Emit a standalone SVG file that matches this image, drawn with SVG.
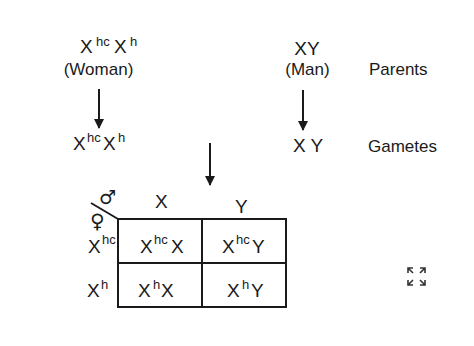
<svg xmlns="http://www.w3.org/2000/svg" width="474" height="346" viewBox="0 0 474 346">
<style>
text{font-family:"Liberation Sans",Arial,sans-serif;fill:#1a1a1a}
.w{font-size:17px}
.s{font-size:19px}
.p{font-size:13px}
.ln{stroke:#1a1a1a;stroke-width:2;fill:none}
.ic{stroke:#333;stroke-width:1.6;fill:none}
.sym{font-family:"DejaVu Sans",sans-serif;font-weight:bold}
</style>
<defs>
<marker id="ah" viewBox="0 0 10 10" refX="9" refY="5" markerWidth="5" markerHeight="5" orient="auto" markerUnits="strokeWidth">
<path d="M0,0L10,5L0,10z" fill="#1a1a1a"/>
</marker>
</defs>
<rect width="474" height="346" fill="#fff"/>
<g id="woman">
<text class="s" x="80" y="53">X</text><text class="p" x="96" y="46">hc</text>
<text class="s" x="114" y="53">X</text><text class="p" x="130" y="46">h</text>
<text class="w" x="98.5" y="75" text-anchor="middle">(Woman)</text>
</g>
<g id="man">
<text class="s" x="307" y="55" text-anchor="middle">XY</text>
<text class="w" x="307.5" y="75" text-anchor="middle">(Man)</text>
</g>
<g id="parents"><text class="w" x="369" y="75">Parents</text></g>
<g id="gametes-woman">
<text class="s" x="73" y="150">X</text><text class="p" x="87" y="142">hc</text>
<text class="s" x="103" y="150">X</text><text class="p" x="118" y="142">h</text>
</g>
<g id="gametes-man"><text class="s" x="293" y="152">X Y</text></g>
<g id="gametes"><text class="w" x="368" y="152">Gametes</text></g>
<g id="connectors">
<line class="ln" x1="99" y1="89" x2="99" y2="128" marker-end="url(#ah)"/>
<line class="ln" x1="303" y1="90" x2="303" y2="130" marker-end="url(#ah)"/>
<line class="ln" x1="210" y1="143" x2="210" y2="185" marker-end="url(#ah)"/>
</g>
<g id="punnett">
<line class="ln" x1="91" y1="203" x2="118" y2="219"/>
<text class="sym" x="99" y="204" font-size="19">♂</text>
<text class="sym" x="90" y="228" font-size="20">♀</text>
<text class="s" x="155" y="208">X</text>
<text class="s" x="235" y="213">Y</text>
<rect class="ln" x="118" y="219" width="168" height="88"/>
<line class="ln" x1="202" y1="219" x2="202" y2="307"/>
<line class="ln" x1="118" y1="263" x2="286" y2="263"/>
<text class="s" x="88" y="253">X</text><text class="p" x="102" y="244">hc</text>
<text class="s" x="87" y="297">X</text><text class="p" x="101" y="289">h</text>
<text class="s" x="140" y="253">X</text><text class="p" x="154" y="244">hc</text><text class="s" x="171" y="253">X</text>
<text class="s" x="222" y="253">X</text><text class="p" x="236" y="244">hc</text><text class="s" x="252" y="253">Y</text>
<text class="s" x="138" y="297">X</text><text class="p" x="153" y="289">h</text><text class="s" x="161" y="297">X</text>
<text class="s" x="227" y="297">X</text><text class="p" x="242" y="289">h</text><text class="s" x="251" y="297">Y</text>
</g>
<g id="expand-icon">
<path class="ic" d="M413,273L408,268M408,273V268H413"/>
<path class="ic" d="M420,273L425,268M420,268H425V273"/>
<path class="ic" d="M413,280L408,285M408,280V285H413"/>
<path class="ic" d="M420,280L425,285M420,285H425V280"/>
</g>
</svg>
